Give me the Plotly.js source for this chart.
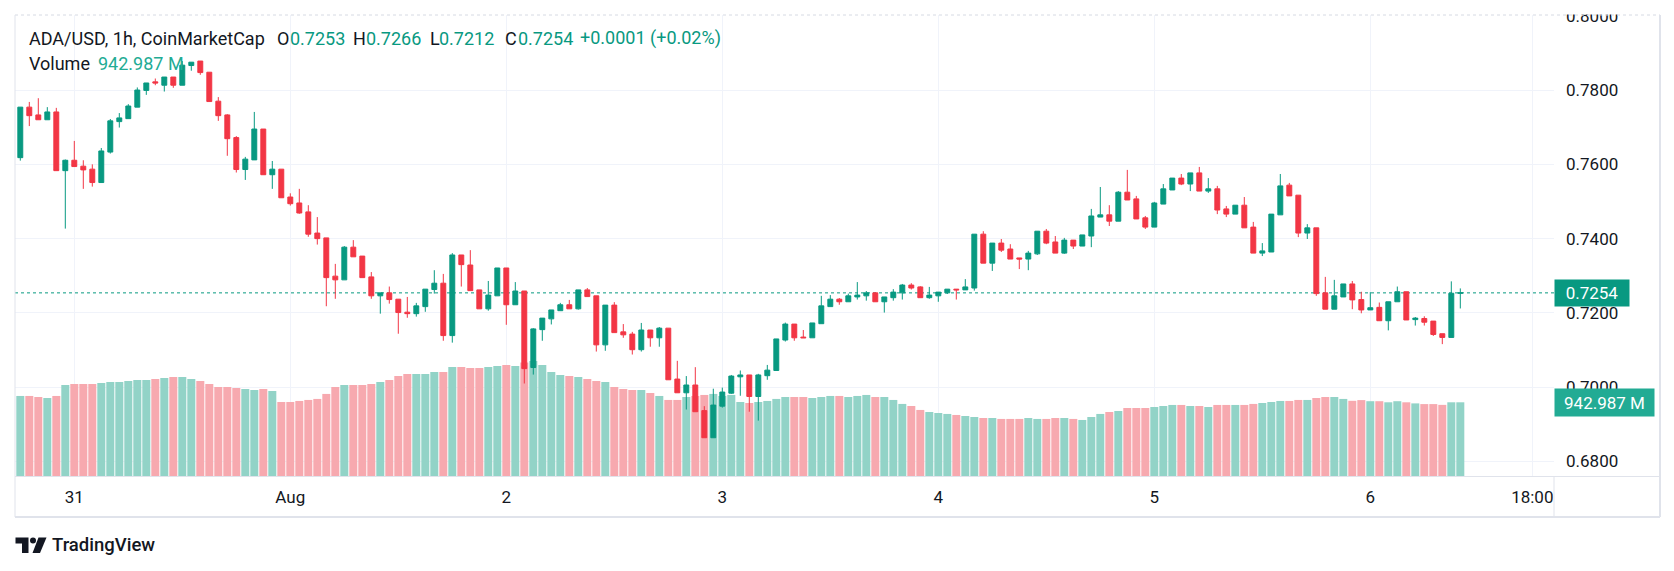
<!DOCTYPE html>
<html><head><meta charset="utf-8">
<script src="https://cdn.plot.ly/plotly-3.0.1.min.js"></script>
<style>html,body{margin:0;padding:0;background:#fff;}#chart{width:1674px;height:571px;}</style>
</head><body><div id="chart"></div>
<script>
// ---- data (ADA/USD, 1h, CoinMarketCap) ----
const startTimeUTC = Date.UTC(2025, 6, 30, 18, 0, 0); // first candle: 30 Jul 18:00
const openP = [0.7618,0.7754,0.7733,0.7720,0.7741,0.7583,0.7611,0.7595,0.7587,0.7551,
0.7633,0.7715,0.7723,0.7754,0.7799,0.7822,0.7813,0.7835,0.7813,0.7866,
0.7878,0.7848,0.7770,0.7733,0.7672,0.7586,0.7612,0.7695,0.7572,0.7587,
0.7512,0.7496,0.7472,0.7415,0.7402,0.7299,0.7289,0.7377,0.7353,0.7297,
0.7246,0.7254,0.7237,0.7202,0.7198,0.7217,0.7263,0.7280,0.7139,0.7356,
0.7329,0.7262,0.7211,0.7246,0.7321,0.7222,0.7259,0.7053,0.7155,0.7184,
0.7206,0.7222,0.7211,0.7262,0.7246,0.7114,0.7221,0.7149,0.7143,0.7101,
0.7154,0.7133,0.7159,0.7022,0.6985,0.7006,0.6937,0.6864,0.6949,0.6984,
0.7028,0.7033,0.6975,0.7031,0.7045,0.7127,0.7170,0.7135,0.7133,0.7171,
0.7217,0.7237,0.7230,0.7243,0.7246,0.7254,0.7230,0.7241,0.7254,0.7275,
0.7270,0.7241,0.7246,0.7254,0.7264,0.7262,0.7267,0.7412,0.7334,0.7388,
0.7372,0.7348,0.7345,0.7359,0.7420,0.7391,0.7361,0.7396,0.7380,0.7407,
0.7458,0.7464,0.7447,0.7525,0.7507,0.7456,0.7431,0.7493,0.7531,0.7563,
0.7547,0.7577,0.7528,0.7534,0.7480,0.7466,0.7490,0.7431,0.7361,0.7364,
0.7464,0.7544,0.7517,0.7415,0.7429,0.7254,0.7210,0.7243,0.7278,0.7236,
0.7208,0.7215,0.7179,0.7230,0.7257,0.7182,0.7185,0.7178,0.7144,0.7134,
0.7253];
const highP = [0.7754,0.7768,0.7778,0.7754,0.7752,0.7613,0.7663,0.7611,0.7600,0.7644,
0.7722,0.7738,0.7762,0.7807,0.7819,0.7831,0.7835,0.7835,0.7878,0.7875,
0.7878,0.7848,0.7781,0.7735,0.7676,0.7620,0.7741,0.7695,0.7609,0.7587,
0.7522,0.7534,0.7490,0.7458,0.7402,0.7332,0.7380,0.7396,0.7353,0.7310,
0.7254,0.7271,0.7237,0.7243,0.7227,0.7264,0.7315,0.7305,0.7361,0.7356,
0.7369,0.7262,0.7286,0.7321,0.7321,0.7283,0.7259,0.7159,0.7186,0.7208,
0.7227,0.7235,0.7262,0.7267,0.7246,0.7221,0.7229,0.7170,0.7149,0.7173,
0.7154,0.7162,0.7159,0.7071,0.7030,0.7054,0.6949,0.6996,0.6999,0.7033,
0.7045,0.7033,0.7036,0.7060,0.7130,0.7174,0.7170,0.7154,0.7173,0.7246,
0.7248,0.7240,0.7252,0.7283,0.7259,0.7256,0.7243,0.7264,0.7278,0.7280,
0.7272,0.7270,0.7256,0.7264,0.7264,0.7291,0.7412,0.7420,0.7388,0.7399,
0.7385,0.7348,0.7367,0.7420,0.7426,0.7407,0.7402,0.7396,0.7410,0.7480,
0.7539,0.7490,0.7528,0.7585,0.7515,0.7461,0.7499,0.7547,0.7563,0.7574,
0.7577,0.7593,0.7563,0.7542,0.7488,0.7490,0.7512,0.7445,0.7388,0.7466,
0.7574,0.7550,0.7517,0.7439,0.7429,0.7297,0.7289,0.7278,0.7286,0.7257,
0.7256,0.7228,0.7230,0.7271,0.7257,0.7189,0.7191,0.7178,0.7144,0.7285,
0.7266];
const lowP = [0.7610,0.7703,0.7720,0.7720,0.7583,0.7427,0.7594,0.7534,0.7540,0.7551,
0.7629,0.7699,0.7723,0.7754,0.7787,0.7813,0.7796,0.7806,0.7813,0.7852,
0.7841,0.7769,0.7717,0.7623,0.7578,0.7558,0.7612,0.7572,0.7534,0.7510,
0.7489,0.7467,0.7405,0.7384,0.7218,0.7238,0.7289,0.7351,0.7295,0.7238,
0.7198,0.7225,0.7144,0.7187,0.7190,0.7203,0.7252,0.7125,0.7120,0.7271,
0.7260,0.7211,0.7206,0.7246,0.7168,0.7222,0.7010,0.7034,0.7125,0.7169,
0.7206,0.7211,0.7209,0.7244,0.7096,0.7098,0.7147,0.7133,0.7088,0.7096,
0.7109,0.7109,0.7020,0.6985,0.6940,0.6934,0.6864,0.6864,0.6945,0.6982,
0.6977,0.6934,0.6910,0.7020,0.7045,0.7123,0.7125,0.7133,0.7133,0.7171,
0.7217,0.7222,0.7230,0.7236,0.7233,0.7230,0.7201,0.7233,0.7236,0.7263,
0.7241,0.7238,0.7230,0.7251,0.7236,0.7262,0.7260,0.7334,0.7313,0.7364,
0.7345,0.7318,0.7315,0.7356,0.7385,0.7361,0.7359,0.7372,0.7380,0.7377,
0.7458,0.7434,0.7447,0.7504,0.7453,0.7426,0.7431,0.7493,0.7531,0.7544,
0.7528,0.7528,0.7523,0.7466,0.7458,0.7466,0.7429,0.7361,0.7353,0.7364,
0.7464,0.7515,0.7404,0.7399,0.7246,0.7210,0.7210,0.7243,0.7210,0.7199,
0.7208,0.7179,0.7153,0.7230,0.7181,0.7166,0.7166,0.7138,0.7116,0.7134,
0.7212];
const closeP = [0.7754,0.7731,0.7720,0.7741,0.7583,0.7611,0.7594,0.7585,0.7551,0.7636,
0.7717,0.7725,0.7757,0.7800,0.7819,0.7819,0.7835,0.7813,0.7867,0.7875,
0.7847,0.7769,0.7731,0.7669,0.7586,0.7614,0.7695,0.7572,0.7587,0.7510,
0.7494,0.7469,0.7412,0.7400,0.7295,0.7289,0.7377,0.7351,0.7295,0.7246,
0.7254,0.7236,0.7201,0.7198,0.7219,0.7264,0.7280,0.7139,0.7356,0.7330,
0.7260,0.7211,0.7248,0.7321,0.7222,0.7259,0.7050,0.7157,0.7186,0.7208,
0.7222,0.7211,0.7262,0.7244,0.7114,0.7221,0.7147,0.7141,0.7101,0.7154,
0.7133,0.7159,0.7020,0.6985,0.7006,0.6934,0.6864,0.6952,0.6987,0.7030,
0.7033,0.6975,0.7033,0.7046,0.7130,0.7170,0.7133,0.7133,0.7173,0.7219,
0.7237,0.7230,0.7246,0.7248,0.7254,0.7230,0.7243,0.7256,0.7275,0.7267,
0.7241,0.7248,0.7256,0.7264,0.7262,0.7270,0.7412,0.7334,0.7388,0.7369,
0.7345,0.7345,0.7361,0.7420,0.7388,0.7361,0.7396,0.7380,0.7410,0.7461,
0.7464,0.7447,0.7525,0.7504,0.7453,0.7431,0.7496,0.7534,0.7563,0.7547,
0.7577,0.7528,0.7534,0.7477,0.7466,0.7490,0.7429,0.7361,0.7367,0.7466,
0.7542,0.7515,0.7415,0.7429,0.7252,0.7210,0.7246,0.7278,0.7235,0.7208,
0.7214,0.7179,0.7230,0.7257,0.7181,0.7186,0.7175,0.7142,0.7134,0.7253,
0.7254];
const volumeM = [1024,1024,1011,998,1024,1165,1178,1178,1178,1190,
1203,1203,1216,1229,1229,1242,1254,1267,1267,1242,
1216,1178,1139,1139,1126,1114,1101,1114,1088,947,
947,960,973,986,1050,1139,1165,1165,1165,1178,
1203,1229,1280,1306,1306,1306,1331,1331,1395,1395,
1382,1382,1395,1408,1421,1408,1451,1472,1421,1331,
1293,1280,1267,1242,1216,1203,1139,1114,1101,1101,
1062,1024,973,973,1011,1024,1037,1050,1024,1037,
947,934,947,960,986,1011,1011,1011,998,1011,
1024,1024,1011,1024,1037,1011,1011,973,922,896,
845,819,806,794,781,768,755,742,742,730,
730,730,742,730,730,742,742,730,717,755,
794,819,832,870,870,870,883,896,909,909,
896,896,883,909,909,909,909,922,934,947,
960,960,973,973,998,1011,1011,986,962,971,
957,957,943,957,943,929,920,920,910,943,
942.987];
const xTickVals = ['2025-07-31 00:00','2025-08-01 00:00','2025-08-02 00:00','2025-08-03 00:00',
                   '2025-08-04 00:00','2025-08-05 00:00','2025-08-06 00:00','2025-08-06 18:00'];
const xTickText = ['31','Aug','2','3','4','5','6','18:00'];
const priceTickVals = [0.68,0.70,0.72,0.74,0.76,0.78,0.80];
const priceTickText = ['0.6800','0.7000','0.7200','0.7400','0.7600','0.7800','0.8000'];
const symbolText = 'ADA/USD, 1h, CoinMarketCap';
const changeText = '+0.0001 (+0.02%)';

// ---- build ----
const times = openP.map((_, i) => new Date(startTimeUTC + i * 3600e3).toISOString().slice(0, 16).replace('T', ' '));
const n = closeP.length;
const UP = '#089981', DOWN = '#F23645';
const volColors = closeP.map((c, i) => c >= openP[i] ? '#92d3c7' : '#f7a9af');

// plot area in pixels
const PL = 15, PR = 1554, PT = 15, PB = 476;
const W = PR - PL, H = PB - PT;
const px = v => (v - PL) / W;
const py = v => (PB - v) / H;

const FONT = 'Roboto, "Open Sans", sans-serif';
const DARK = '#131722';

const traces = [
  {type: 'bar', x: times, y: volumeM, xaxis: 'x', yaxis: 'y',
   marker: {color: volColors, line: {width: 0}}, hoverinfo: 'skip'},
  {type: 'candlestick', x: times, open: openP, high: highP, low: lowP, close: closeP,
   xaxis: 'x', yaxis: 'y2', whiskerwidth: 0, hoverinfo: 'skip',
   increasing: {line: {color: UP, width: 1}, fillcolor: UP},
   decreasing: {line: {color: DOWN, width: 1}, fillcolor: DOWN}}
];

const lastC = closeP[n - 1], lastV = volumeM[n - 1];
const f4 = v => v.toFixed(4);

function hdr(xpx, ypx, text, color, size, weight) {
  return {xref: 'paper', yref: 'paper', x: px(xpx), y: py(ypx), xanchor: 'left', yanchor: 'middle',
          text: text, showarrow: false, font: {family: FONT, size: size || 18, color: color || DARK, weight: weight || 400}};
}

const annotations = [
  hdr(26.5, 38, symbolText),
  hdr(275, 38, 'O'), hdr(288, 38, f4(openP[n-1]), UP),
  hdr(351, 38, 'H'), hdr(364, 38, f4(highP[n-1]), UP),
  hdr(428, 38, 'L'), hdr(437, 38, f4(lowP[n-1]), UP),
  hdr(503, 38, 'C'), hdr(515.5, 38, f4(lastC), UP),
  hdr(578, 38, changeText, UP),
  hdr(26.5, 63, 'Volume'), hdr(96, 63, lastV.toFixed(3) + ' M', '#22ab94'),
  // last price label
  {xref: 'paper', yref: 'y2', x: 1, y: lastC, xanchor: 'left', yanchor: 'middle', showarrow: false,
   text: f4(lastC), bgcolor: UP, width: 70, height: 22, borderpad: 2,
   font: {family: FONT, size: 17, color: '#ffffff'}},
  // last volume label
  {xref: 'paper', yref: 'y', x: 1, y: lastV, xanchor: 'left', yanchor: 'middle', showarrow: false,
   text: lastV.toFixed(3) + ' M', bgcolor: '#22ab94', width: 95, height: 23, borderpad: 2,
   font: {family: FONT, size: 17, color: '#ffffff'}},
  // TradingView brand
  hdr(50, 545, 'TradingView', DARK, 18.5, 500)
];

function pathPx(pts) {
  return 'M' + pts.map(p => px(p[0]) + ',' + py(p[1])).join(' L') + ' Z';
}

const BORDER = '#e0e3eb';
const shapes = [
  // current price dotted line
  {type: 'line', xref: 'paper', yref: 'y2', x0: 0, x1: 1, y0: lastC, y1: lastC, layer: 'below',
   line: {color: UP, width: 1, dash: 'dot'}},
  // cover top cut of price scale
  {type: 'rect', xref: 'paper', yref: 'paper', x0: px(1540), x1: px(1674), y0: py(14.5), y1: py(0),
   fillcolor: '#ffffff', line: {width: 0}, layer: 'above'},
  // frame
  {type: 'line', xref: 'paper', yref: 'paper', x0: px(15), x1: px(1660), y0: py(15), y1: py(15),
   line: {color: '#d6dae3', width: 1, dash: 'dot'}, layer: 'above'},
  {type: 'line', xref: 'paper', yref: 'paper', x0: px(15), x1: px(15), y0: py(15), y1: py(517),
   line: {color: BORDER, width: 1}, layer: 'above'},
  {type: 'line', xref: 'paper', yref: 'paper', x0: px(1660), x1: px(1660), y0: py(15), y1: py(517),
   line: {color: BORDER, width: 2}, layer: 'above'},
  {type: 'line', xref: 'paper', yref: 'paper', x0: px(15), x1: px(1660), y0: py(517), y1: py(517),
   line: {color: BORDER, width: 2}, layer: 'above'},
  {type: 'line', xref: 'paper', yref: 'paper', x0: px(15), x1: px(1660), y0: py(476.5), y1: py(476.5),
   line: {color: BORDER, width: 1}, layer: 'above'},
  {type: 'line', xref: 'paper', yref: 'paper', x0: px(1554), x1: px(1554), y0: py(476), y1: py(517),
   line: {color: BORDER, width: 1}, layer: 'above'},
  // TradingView logo
  {type: 'path', xref: 'paper', yref: 'paper', layer: 'above', fillcolor: DARK, line: {width: 0},
   path: pathPx([[15.5,537.5],[28.5,537.5],[28.5,553],[22,553],[22,543.5],[15.5,543.5]])},
  {type: 'circle', xref: 'paper', yref: 'paper', layer: 'above', fillcolor: DARK, line: {width: 0},
   x0: px(30), x1: px(36), y0: py(537.5), y1: py(543.5)},
  {type: 'path', xref: 'paper', yref: 'paper', layer: 'above', fillcolor: DARK, line: {width: 0},
   path: pathPx([[38.5,537.5],[46.5,537.5],[40,553],[32.5,553]])}
];

const layout = {
  width: 1674, height: 571,
  margin: {l: PL, r: 1674 - PR, t: PT, b: 571 - PB, pad: 0},
  paper_bgcolor: '#ffffff', plot_bgcolor: '#ffffff',
  showlegend: false, hovermode: false,
  bargap: 0.11, boxgap: 0.22,
  font: {family: FONT, color: DARK},
  xaxis: {type: 'date', range: ['2025-07-30 17:24:40', '2025-08-06 20:24:36'],
          rangeslider: {visible: false}, tickmode: 'array', tickvals: xTickVals, ticktext: xTickText,
          showgrid: true, gridcolor: '#f0f3fa', gridwidth: 1, zeroline: false, showline: false,
          ticks: '', ticklabelstandoff: 9, tickfont: {family: FONT, size: 17, color: DARK}},
  yaxis: {range: [0, 5898], showgrid: false, zeroline: false, showticklabels: false, showline: false, ticks: ''},
  yaxis2: {overlaying: 'y', side: 'right', range: [0.6761, 0.8002], tickmode: 'array',
           tickvals: priceTickVals, ticktext: priceTickText, showgrid: true, gridcolor: '#f0f3fa',
           zeroline: false, showline: false, ticks: '', ticklabelstandoff: 11,
           tickfont: {family: FONT, size: 17, color: DARK}},
  annotations: annotations,
  shapes: shapes
};

Plotly.newPlot('chart', traces, layout, {displayModeBar: false, staticPlot: true});
</script>
</body></html>
